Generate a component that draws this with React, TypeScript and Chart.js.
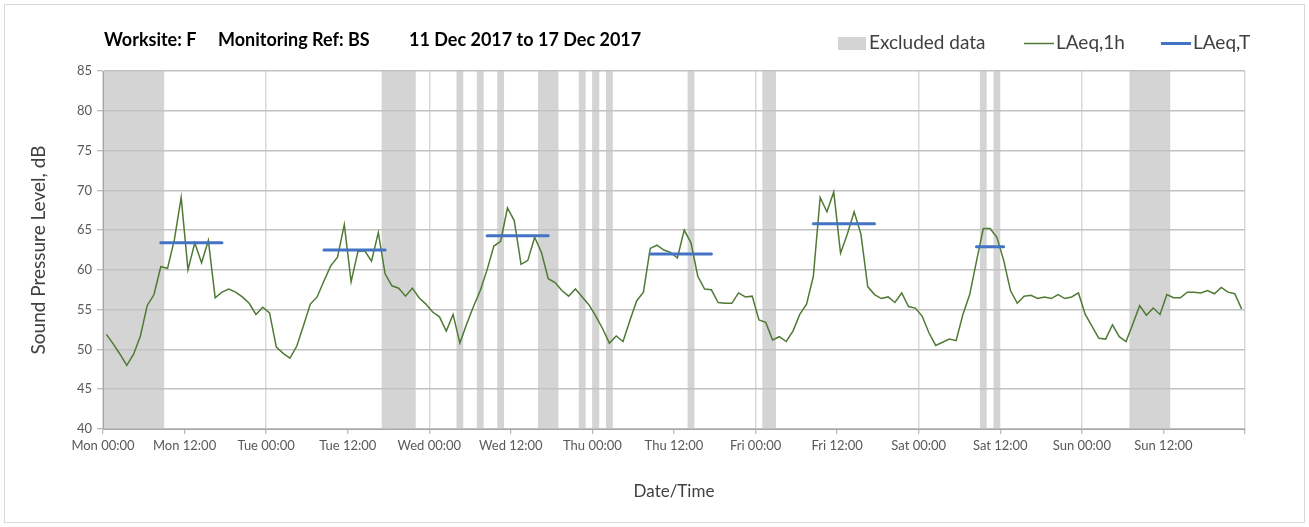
import React, { useEffect, useRef } from 'react';
import { Chart, registerables } from 'chart.js';

Chart.register(...registerables);

// X-axis tick labels every 12 hours (hours 0..168)
const tickLabels = [
  'Mon 00:00', 'Mon 12:00', 'Tue 00:00', 'Tue 12:00', 'Wed 00:00', 'Wed 12:00',
  'Thu 00:00', 'Thu 12:00', 'Fri 00:00', 'Fri 12:00', 'Sat 00:00', 'Sat 12:00',
  'Sun 00:00', 'Sun 12:00', '',
];

// Hourly LAeq,1h values (one per hour, Mon 00:00 .. Sun 23:00)
const laeq1h = [
  51.9, 50.7, 49.4, 48.0, 49.4, 51.7, 55.5, 56.9, 60.4, 60.2, 63.8, 69.1,
  60.0, 63.4, 60.9, 63.7, 56.5, 57.2, 57.6, 57.2, 56.6, 55.8, 54.4, 55.3,
  54.6, 50.3, 49.5, 48.9, 50.4, 53.0, 55.7, 56.6, 58.6, 60.5, 61.6, 65.7,
  58.5, 62.3, 62.4, 61.1, 64.7, 59.5, 58.0, 57.7, 56.7, 57.7, 56.5, 55.7,
  54.7, 54.1, 52.3, 54.4, 50.8, 53.2, 55.4, 57.4, 60.0, 63.0, 63.6, 67.8,
  66.2, 60.7, 61.2, 64.1, 62.2, 58.9, 58.4, 57.4, 56.7, 57.6, 56.6, 55.6,
  54.2, 52.6, 50.8, 51.7, 51.0, 53.6, 56.1, 57.2, 62.7, 63.1, 62.5, 62.2,
  61.5, 65.0, 63.4, 59.2, 57.6, 57.5, 55.9, 55.8, 55.8, 57.1, 56.6, 56.7,
  53.7, 53.4, 51.2, 51.6, 51.0, 52.3, 54.4, 55.7, 59.2, 69.1, 67.3, 69.8,
  62.1, 64.5, 67.3, 64.5, 57.9, 56.9, 56.4, 56.6, 55.9, 57.1, 55.4, 55.2,
  54.2, 52.1, 50.5, 50.9, 51.3, 51.1, 54.4, 56.9, 61.1, 65.2, 65.2, 64.1,
  61.2, 57.4, 55.8, 56.7, 56.8, 56.4, 56.6, 56.4, 56.9, 56.4, 56.6, 57.1,
  54.4, 52.9, 51.4, 51.3, 53.1, 51.6, 51.0, 53.2, 55.5, 54.3, 55.2, 54.4,
  56.9, 56.5, 56.5, 57.2, 57.2, 57.1, 57.4, 57.0, 57.8, 57.2, 57.0, 55.1,
];

// Excluded data periods (hours from Mon 00:00)
const excludedStart = [0, 41, 52, 55, 58, 64, 70, 72, 74, 86, 97, 129, 131, 151];
const excludedEnd = [9, 46, 53, 56, 59, 67, 71, 73, 75, 87, 99, 130, 132, 157];

// LAeq,T periods (hours from Mon 00:00) and levels
const periodStart = [8.5, 32.5, 56.5, 80.5, 104.5, 128.5];
const periodEnd = [17.5, 41.5, 65.5, 89.5, 113.5, 132.5];
const laeqT = [63.4, 62.5, 64.3, 62.0, 65.8, 62.9];

const FONT = 'Lato, "Open Sans", sans-serif';
const BAND = '#d4d4d4';
const GREEN = '#4f7a35';
const BLUE = '#4472c4';

const decor = {
  id: 'decor',
  beforeDraw(chart: any) {
    const { ctx, chartArea, scales } = chart;
    const x = scales.x;
    ctx.save();
    ctx.fillStyle = BAND;
    excludedStart.forEach((s, i) => {
      const x0 = x.getPixelForValue(s);
      const x1 = x.getPixelForValue(excludedEnd[i]);
      ctx.fillRect(x0, chartArea.top, x1 - x0, chartArea.bottom - chartArea.top);
    });
    ctx.restore();
  },
  afterDraw(chart: any) {
    const { ctx, width, height } = chart;
    ctx.save();
    // outer border
    ctx.strokeStyle = '#d9d9d9';
    ctx.lineWidth = 1;
    ctx.strokeRect(4.5, 4.5, width - 9, height - 9);

    // title
    ctx.fillStyle = '#000000';
    ctx.font = `bold 18px ${FONT}`;
    ctx.textBaseline = 'middle';
    ctx.textAlign = 'left';
    ctx.fillText('Worksite: F', 104, 40);
    ctx.fillText('Monitoring Ref: BS', 218, 40);
    ctx.fillText('11 Dec 2017 to 17 Dec 2017', 409, 40);

    // legend
    ctx.font = `19px ${FONT}`;
    ctx.fillStyle = '#404040';
    ctx.fillText('Excluded data', 869, 43);
    ctx.fillText('LAeq,1h', 1056, 43);
    ctx.fillText('LAeq,T', 1193, 43);
    ctx.fillStyle = BAND;
    ctx.fillRect(838, 37, 28, 13);
    ctx.strokeStyle = GREEN;
    ctx.lineWidth = 1.5;
    ctx.beginPath();
    ctx.moveTo(1024, 43.5);
    ctx.lineTo(1054, 43.5);
    ctx.stroke();
    ctx.strokeStyle = BLUE;
    ctx.lineWidth = 3;
    ctx.beginPath();
    ctx.moveTo(1161, 43.5);
    ctx.lineTo(1191, 43.5);
    ctx.stroke();
    ctx.restore();
  },
};

export default function App() {
  const ref = useRef<HTMLCanvasElement>(null);

  useEffect(() => {
    document.body.style.margin = '0';
    const canvas = ref.current;
    if (!canvas) return;

    const datasets: any[] = [
      {
        label: 'LAeq,1h',
        data: laeq1h.map((v, i) => ({ x: i + 0.5, y: v })),
        borderColor: GREEN,
        borderWidth: 1.5,
        pointRadius: 0,
        tension: 0,
        order: 1,
      },
    ];
    laeqT.forEach((v, i) => {
      datasets.push({
        label: 'LAeq,T',
        data: [
          { x: periodStart[i], y: v },
          { x: periodEnd[i], y: v },
        ],
        borderColor: BLUE,
        borderWidth: 3,
        borderCapStyle: 'round',
        pointRadius: 0,
        order: 0,
      });
    });

    const chart = new Chart(canvas, {
      type: 'line',
      data: { datasets },
      plugins: [decor],
      options: {
        responsive: false,
        animation: false,
        events: [],
        layout: { padding: { left: 0, top: 71, right: 64, bottom: 18 } },
        plugins: {
          legend: { display: false },
          title: { display: false },
          tooltip: { enabled: false },
        },
        scales: {
          x: {
            type: 'linear',
            min: 0,
            max: 168,
            afterFit: (s: any) => {
              s.height = 80;
            },
            afterBuildTicks: (s: any) => {
              s.ticks = tickLabels.map((_, i) => ({ value: i * 12 }));
            },
            ticks: {
              stepSize: 12,
              autoSkip: false,
              maxRotation: 0,
              minRotation: 0,
              padding: 4,
              color: '#595959',
              font: { family: FONT, size: 13 },
              callback: (v: any) => tickLabels[Math.round(Number(v) / 12)] ?? '',
            },
            grid: {
              color: (c: any) =>
                c.tick && Math.round(c.tick.value) % 24 === 0 ? '#d9d9d9' : 'rgba(0,0,0,0)',
              lineWidth: 1.5,
              tickColor: '#a6a6a6',
              tickLength: 5,
              tickWidth: 1,
            },
            border: { color: '#a6a6a6', width: 1 },
            title: {
              display: true,
              text: 'Date/Time',
              color: '#404040',
              font: { family: FONT, size: 17 },
              padding: { top: 0, bottom: 7 },
            },
          },
          y: {
            min: 40,
            max: 85,
            afterFit: (s: any) => {
              s.width = 103;
            },
            ticks: {
              stepSize: 5,
              padding: 5,
              color: '#595959',
              font: { family: FONT, size: 13 },
            },
            grid: {
              color: '#c2c2c2',
              lineWidth: 1.5,
              tickColor: '#a6a6a6',
              tickLength: 6,
              tickWidth: 1,
            },
            border: { color: '#a6a6a6', width: 1 },
            title: {
              display: true,
              text: 'Sound Pressure Level, dB',
              color: '#404040',
              font: { family: FONT, size: 19 },
              padding: { top: 27, bottom: 0 },
            },
          },
        },
      },
    });

    return () => chart.destroy();
  }, []);

  return (
    <div style={{ width: 1309, height: 527, background: '#ffffff' }}>
      <canvas ref={ref} width={1309} height={527} style={{ display: 'block' }} />
    </div>
  );
}
